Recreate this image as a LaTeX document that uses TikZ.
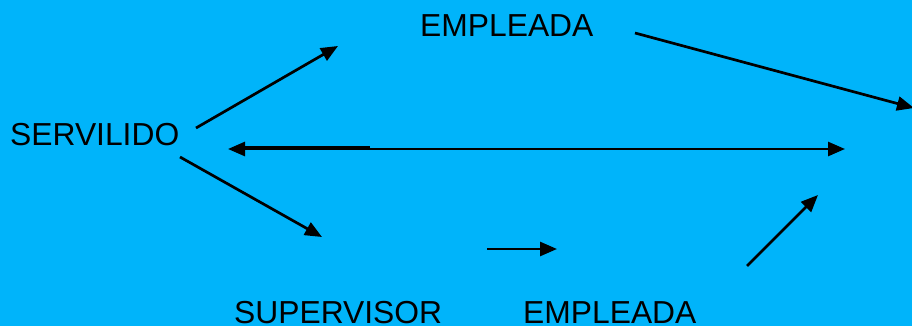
\documentclass[tikz,border=0pt]{standalone}
\usepackage{fontspec}
\setmainfont{Liberation Sans}
\usetikzlibrary{arrows.meta}
\definecolor{bg}{RGB}{0,180,250}
\begin{document}
\begin{tikzpicture}[x=1pt,y=-1pt,
  lbl/.style={inner sep=0pt,anchor=base west,font=\fontsize{31.8}{38}\selectfont},
  arr/.style={line width=2.7pt,-{Triangle[length=17pt,width=14pt]}},
  darr/.style={line width=2.7pt,{Triangle[length=17pt,width=14pt]}-{Triangle[length=17pt,width=14pt]}}]
\fill[bg] (0,0) rectangle (912,326);
\useasboundingbox (0,0) rectangle (912,326);
\node[lbl] (empA) at (420,37) {EMPLEADA};
\node[lbl] (serv) at (10,145) {SERVILIDO};
\node[lbl] (sup) at (234,323) {SUPERVISOR};
\node[lbl] (empB) at (523,323) {EMPLEADA};
\coordinate (a1s) at (196,128); \coordinate (a1e) at (338,46);
\coordinate (a2s) at (635,33);  \coordinate (a2e) at (914,108);
\coordinate (a3s) at (180,157); \coordinate (a3e) at (322,237);
\coordinate (a4s) at (228,149); \coordinate (a4e) at (845,149);
\coordinate (t1) at (240,147.5); \coordinate (t2) at (370,147.5);
\coordinate (a5s) at (487,249); \coordinate (a5e) at (557,249);
\coordinate (a6s) at (747,266); \coordinate (a6e) at (818,195);
\draw[arr] (a1s) -- (a1e);
\draw[arr] (a2s) -- (a2e);
\draw[arr] (a3s) -- (a3e);
\draw[darr] (a4s) -- (a4e);
\draw[line width=3.5pt] (t1) -- (t2);
\draw[arr] (a5s) -- (a5e);
\draw[arr] (a6s) -- (a6e);
\end{tikzpicture}
\end{document}
